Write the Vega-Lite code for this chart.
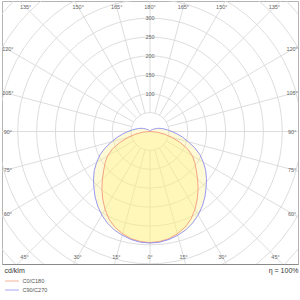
{
  "$schema": "https://vega.github.io/schema/vega-lite/v6.json",
  "width": 296,
  "height": 263,
  "autosize": {"type": "none"},
  "padding": {"left": 2, "top": 1, "right": 2, "bottom": 36},
  "background": "white",
  "config": {
    "view": {"stroke": "#b4b4b4", "strokeWidth": 1},
    "font": "Liberation Sans",
    "legend": {
      "orient": "none", "legendX": 6, "legendY": 276, "title": null, "padding": 0,
      "symbolType": "M-2,0H2", "symbolSize": 49, "symbolStrokeWidth": 1, "symbolOpacity": 0.75,
      "labelFontSize": 5.5, "labelColor": "#555", "labelOffset": 6.5, "rowPadding": 1
    }
  },
  "datasets": {
    "circles": [{"r": 50}, {"r": 100}, {"r": 150}, {"r": 200}, {"r": 250}, {"r": 300}, {"r": 350}, {"r": 400}, {"r": 450}, {"r": 500}, {"r": 550}],
    "spokes": [
      {"a": -165, "lab": "165°"}, {"a": -150, "lab": "150°"}, {"a": -135, "lab": "135°"}, {"a": -120, "lab": "120°"},
      {"a": -105, "lab": "105°"}, {"a": -90, "lab": "90°"}, {"a": -75, "lab": "75°"}, {"a": -60, "lab": "60°"},
      {"a": -45, "lab": "45°"}, {"a": -30, "lab": "30°"}, {"a": -15, "lab": "15°"}, {"a": 0, "lab": "0°"},
      {"a": 15, "lab": "15°"}, {"a": 30, "lab": "30°"}, {"a": 45, "lab": "45°"}, {"a": 60, "lab": "60°"},
      {"a": 75, "lab": "75°"}, {"a": 90, "lab": "90°"}, {"a": 105, "lab": "105°"}, {"a": 120, "lab": "120°"},
      {"a": 135, "lab": "135°"}, {"a": 150, "lab": "150°"}, {"a": 165, "lab": "165°"}, {"a": 180, "lab": "180°"}
    ],
    "rlabels": [{"r": 100}, {"r": 150}, {"r": 200}, {"r": 250}, {"r": 300}],
    "curves": [
      {"c": "C0/C180", "g": -90, "i": 0}, {"c": "C0/C180", "g": -85, "i": 18}, {"c": "C0/C180", "g": -80, "i": 38},
      {"c": "C0/C180", "g": -75, "i": 60}, {"c": "C0/C180", "g": -70, "i": 85}, {"c": "C0/C180", "g": -65, "i": 110},
      {"c": "C0/C180", "g": -60, "i": 130}, {"c": "C0/C180", "g": -55, "i": 145}, {"c": "C0/C180", "g": -50, "i": 160},
      {"c": "C0/C180", "g": -45, "i": 178}, {"c": "C0/C180", "g": -40, "i": 198}, {"c": "C0/C180", "g": -35, "i": 218},
      {"c": "C0/C180", "g": -30, "i": 238}, {"c": "C0/C180", "g": -25, "i": 256}, {"c": "C0/C180", "g": -20, "i": 270},
      {"c": "C0/C180", "g": -15, "i": 280}, {"c": "C0/C180", "g": -10, "i": 288}, {"c": "C0/C180", "g": -5, "i": 292},
      {"c": "C0/C180", "g": 0, "i": 294},
      {"c": "C0/C180", "g": 5, "i": 292}, {"c": "C0/C180", "g": 10, "i": 288}, {"c": "C0/C180", "g": 15, "i": 280},
      {"c": "C0/C180", "g": 20, "i": 270}, {"c": "C0/C180", "g": 25, "i": 256}, {"c": "C0/C180", "g": 30, "i": 238},
      {"c": "C0/C180", "g": 35, "i": 218}, {"c": "C0/C180", "g": 40, "i": 198}, {"c": "C0/C180", "g": 45, "i": 178},
      {"c": "C0/C180", "g": 50, "i": 160}, {"c": "C0/C180", "g": 55, "i": 145}, {"c": "C0/C180", "g": 60, "i": 130},
      {"c": "C0/C180", "g": 65, "i": 110}, {"c": "C0/C180", "g": 70, "i": 85}, {"c": "C0/C180", "g": 75, "i": 60},
      {"c": "C0/C180", "g": 80, "i": 38}, {"c": "C0/C180", "g": 85, "i": 18}, {"c": "C0/C180", "g": 90, "i": 0},

      {"c": "C90/C270", "g": -180, "i": 2}, {"c": "C90/C270", "g": -170, "i": 2}, {"c": "C90/C270", "g": -160, "i": 2.5},
      {"c": "C90/C270", "g": -150, "i": 3}, {"c": "C90/C270", "g": -140, "i": 5}, {"c": "C90/C270", "g": -130, "i": 8},
      {"c": "C90/C270", "g": -125, "i": 10}, {"c": "C90/C270", "g": -120, "i": 14}, {"c": "C90/C270", "g": -115, "i": 19},
      {"c": "C90/C270", "g": -110, "i": 25}, {"c": "C90/C270", "g": -105, "i": 31}, {"c": "C90/C270", "g": -100, "i": 38},
      {"c": "C90/C270", "g": -95, "i": 47}, {"c": "C90/C270", "g": -90, "i": 58}, {"c": "C90/C270", "g": -85, "i": 72},
      {"c": "C90/C270", "g": -80, "i": 88}, {"c": "C90/C270", "g": -75, "i": 105}, {"c": "C90/C270", "g": -70, "i": 126},
      {"c": "C90/C270", "g": -65, "i": 146}, {"c": "C90/C270", "g": -60, "i": 163}, {"c": "C90/C270", "g": -55, "i": 180},
      {"c": "C90/C270", "g": -50, "i": 195}, {"c": "C90/C270", "g": -45, "i": 210}, {"c": "C90/C270", "g": -40, "i": 226},
      {"c": "C90/C270", "g": -35, "i": 241}, {"c": "C90/C270", "g": -30, "i": 255}, {"c": "C90/C270", "g": -25, "i": 267},
      {"c": "C90/C270", "g": -20, "i": 277}, {"c": "C90/C270", "g": -15, "i": 284}, {"c": "C90/C270", "g": -10, "i": 290},
      {"c": "C90/C270", "g": -5, "i": 294}, {"c": "C90/C270", "g": 0, "i": 295},
      {"c": "C90/C270", "g": 5, "i": 294}, {"c": "C90/C270", "g": 10, "i": 290}, {"c": "C90/C270", "g": 15, "i": 284},
      {"c": "C90/C270", "g": 20, "i": 277}, {"c": "C90/C270", "g": 25, "i": 267}, {"c": "C90/C270", "g": 30, "i": 255},
      {"c": "C90/C270", "g": 35, "i": 241}, {"c": "C90/C270", "g": 40, "i": 226}, {"c": "C90/C270", "g": 45, "i": 210},
      {"c": "C90/C270", "g": 50, "i": 195}, {"c": "C90/C270", "g": 55, "i": 180}, {"c": "C90/C270", "g": 60, "i": 163},
      {"c": "C90/C270", "g": 65, "i": 146}, {"c": "C90/C270", "g": 70, "i": 126}, {"c": "C90/C270", "g": 75, "i": 105},
      {"c": "C90/C270", "g": 80, "i": 88}, {"c": "C90/C270", "g": 85, "i": 72}, {"c": "C90/C270", "g": 90, "i": 58},
      {"c": "C90/C270", "g": 95, "i": 47}, {"c": "C90/C270", "g": 100, "i": 38}, {"c": "C90/C270", "g": 105, "i": 31},
      {"c": "C90/C270", "g": 110, "i": 25}, {"c": "C90/C270", "g": 115, "i": 19}, {"c": "C90/C270", "g": 120, "i": 14},
      {"c": "C90/C270", "g": 125, "i": 10}, {"c": "C90/C270", "g": 130, "i": 8}, {"c": "C90/C270", "g": 140, "i": 5},
      {"c": "C90/C270", "g": 150, "i": 3}, {"c": "C90/C270", "g": 160, "i": 2.5}, {"c": "C90/C270", "g": 170, "i": 2},
      {"c": "C90/C270", "g": 180, "i": 2}
    ]
  },
  "encoding": {
    "x": {
      "field": "x", "type": "quantitative",
      "scale": {"domain": [-391.5, 391.5], "nice": false, "zero": false},
      "axis": {
        "title": "η = 100%", "labels": false, "ticks": false, "grid": false, "domain": true,
        "domainColor": "#8a8a8a", "domainWidth": 1, "titleAnchor": "end", "titleAlign": "right",
        "titleBaseline": "top", "titlePadding": 2, "titleFontSize": 7, "titleFontWeight": "normal", "titleColor": "#333"
      }
    },
    "y": {
      "field": "y", "type": "quantitative",
      "scale": {"domain": [-350.5, 345.3], "nice": false, "zero": false},
      "axis": {
        "title": "cd/klm", "labels": false, "ticks": false, "grid": false, "domain": false,
        "titleAngle": 0, "titleX": 2, "titleY": 265.5, "titleAlign": "left", "titleBaseline": "top",
        "titleFontSize": 7, "titleFontWeight": "normal", "titleColor": "#333"
      }
    }
  },
  "layer": [
    {
      "data": {"name": "circles"},
      "transform": [{"calculate": "0", "as": "x"}, {"calculate": "0", "as": "y"}],
      "mark": {"type": "arc", "filled": false, "fillOpacity": 0, "stroke": "#d9d9d9", "strokeWidth": 0.9, "clip": true, "theta": 0, "theta2": 6.2832},
      "encoding": {
        "radius": {"field": "r", "type": "quantitative", "stack": null, "scale": {"type": "linear", "domain": [0, 500], "range": [0, 189], "zero": true}, "legend": null}
      }
    },
    {
      "data": {"name": "spokes"},
      "transform": [
        {"calculate": "datum.a*PI/180", "as": "rad"},
        {"calculate": "50*sin(datum.rad)", "as": "x"},
        {"calculate": "-50*cos(datum.rad)", "as": "y"},
        {"calculate": "1000*sin(datum.rad)", "as": "x2"},
        {"calculate": "-1000*cos(datum.rad)", "as": "y2"}
      ],
      "mark": {"type": "rule", "stroke": "#d9d9d9", "strokeWidth": 0.9, "clip": true},
      "encoding": {"x2": {"field": "x2"}, "y2": {"field": "y2"}}
    },
    {
      "data": {"name": "curves"},
      "transform": [
        {"calculate": "datum.i*sin(datum.g*PI/180)", "as": "x"},
        {"calculate": "-datum.i*cos(datum.g*PI/180)", "as": "y"}
      ],
      "mark": {"type": "line", "fill": "#fff080", "fillOpacity": 0.32, "strokeOpacity": 0, "interpolate": "linear"},
      "encoding": {"detail": {"field": "c"}, "order": {"field": "g", "type": "quantitative"}}
    },
    {
      "data": {"name": "curves"},
      "transform": [
        {"calculate": "datum.i*sin(datum.g*PI/180)", "as": "x"},
        {"calculate": "-datum.i*cos(datum.g*PI/180)", "as": "y"}
      ],
      "mark": {"type": "line", "strokeWidth": 0.9, "interpolate": "linear"},
      "encoding": {
        "color": {"field": "c", "type": "nominal", "scale": {"domain": ["C0/C180", "C90/C270"], "range": ["#f39a7a", "#8c8cf2"]}},
        "order": {"field": "g", "type": "quantitative"}
      }
    },
    {
      "data": {"name": "rlabels"},
      "transform": [{"calculate": "0", "as": "x"}, {"calculate": "datum.r", "as": "y"}],
      "mark": {"type": "text", "fontSize": 5.5, "color": "#666", "align": "center", "baseline": "middle"},
      "encoding": {"text": {"field": "r", "type": "quantitative"}}
    },
    {
      "data": {"name": "spokes"},
      "transform": [
        {"calculate": "datum.a*PI/180", "as": "rad"},
        {"calculate": "sin(datum.rad)", "as": "dx"},
        {"calculate": "-cos(datum.rad)", "as": "dy"},
        {"calculate": "min(abs(datum.dx) > 1e-6 ? 376/abs(datum.dx) : 1e9, datum.dy > 1e-6 ? 329/datum.dy : (datum.dy < -1e-6 ? 332/(-datum.dy) : 1e9))", "as": "t"},
        {"calculate": "datum.t*datum.dx", "as": "x"},
        {"calculate": "datum.t*datum.dy", "as": "y"}
      ],
      "mark": {"type": "text", "fontSize": 5.5, "color": "#666", "align": "center", "baseline": "middle"},
      "encoding": {"text": {"field": "lab", "type": "nominal"}}
    }
  ]
}
